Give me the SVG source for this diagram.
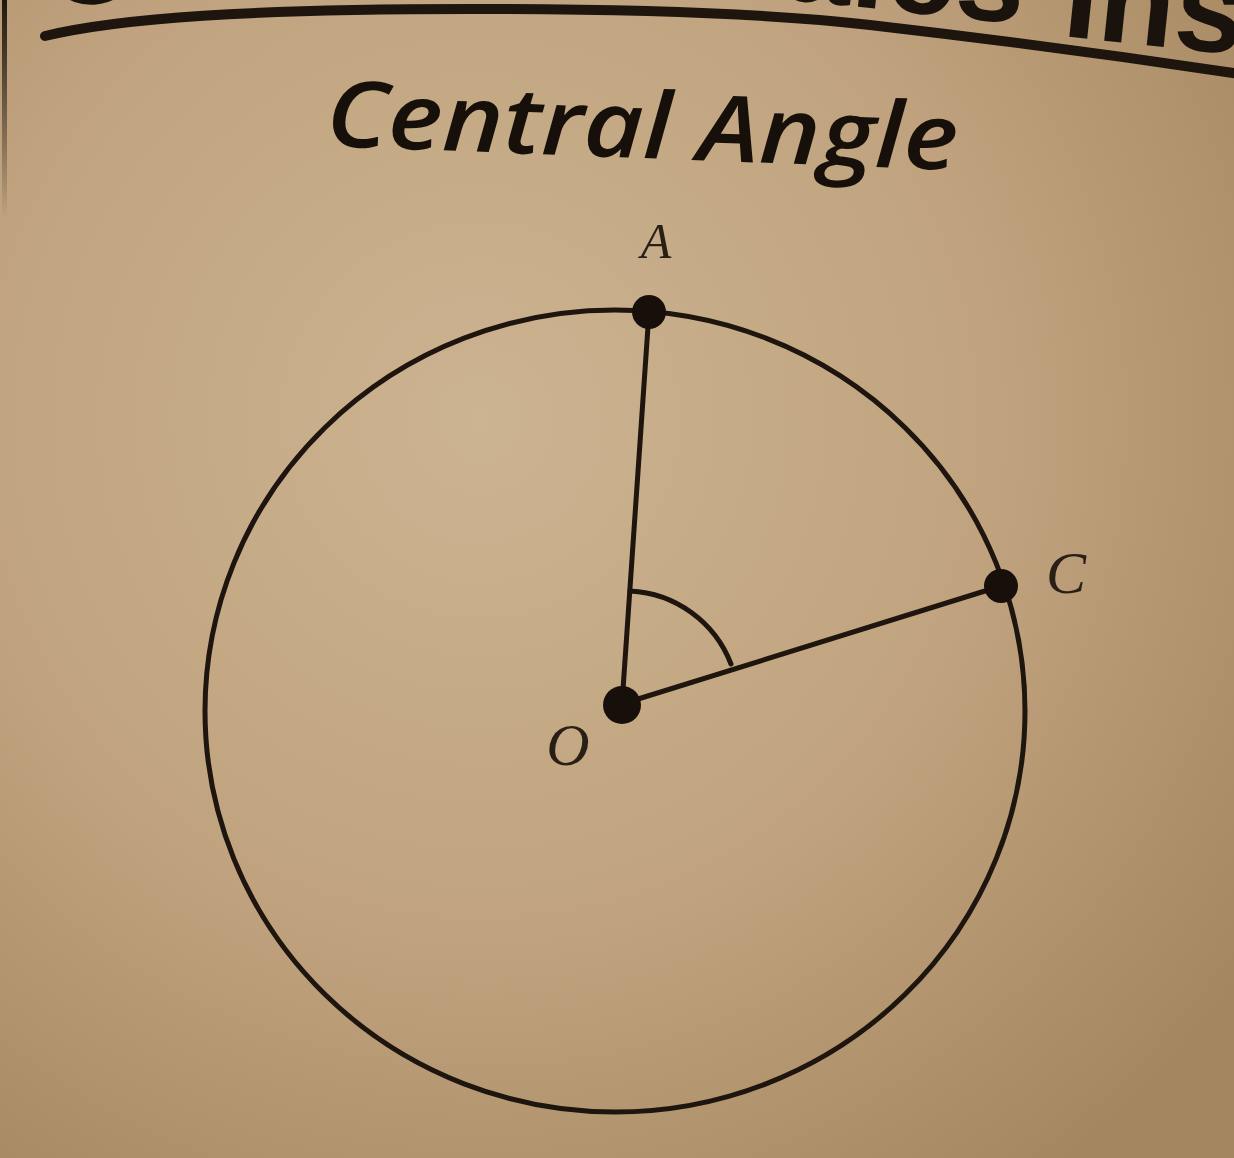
<svg xmlns="http://www.w3.org/2000/svg" width="1234" height="1158" viewBox="0 0 1234 1158">
  <defs>
    <radialGradient id="paper" cx="480" cy="420" r="950" gradientUnits="userSpaceOnUse">
      <stop offset="0" stop-color="#ccb391"/>
      <stop offset="0.55" stop-color="#c0a37e"/>
      <stop offset="1" stop-color="#a48760"/>
    </radialGradient>
    <linearGradient id="edgeFade" x1="0" y1="0" x2="0" y2="1">
      <stop offset="0" stop-color="#201810" stop-opacity="1"/>
      <stop offset="1" stop-color="#201810" stop-opacity="0"/>
    </linearGradient>
    <style>
      .ink { stroke: #1d150e; fill: none; stroke-linecap: round; stroke-linejoin: round; }
      .dot { fill: #17100a; }
      .lbl { font-family: "Liberation Serif", "DejaVu Serif", serif; font-style: italic; fill: #2a1f16; text-anchor: middle; }
      .head { font-family: "Liberation Sans", Arial, sans-serif; font-weight: bold; fill: #1a120c; }
    </style>
  </defs>

  <rect x="0" y="0" width="1234" height="1158" fill="url(#paper)"/>

  <!-- left page edge -->
  <rect x="2" y="0" width="5" height="220" fill="url(#edgeFade)"/>

  <!-- clipped header text fragments -->
  <g id="header">
    <text class="head" font-size="125" transform="translate(46,6) rotate(-3)">C</text>
    <text class="head" font-size="125" text-anchor="end" transform="translate(1022,24) rotate(6)">ales</text>
    <text class="head" font-size="125" transform="translate(1061,36) rotate(6)">Ins</text>
    <path class="ink" stroke-width="10" d="M45,36 C120,18 250,9 470,9 C620,9 760,12 870,25 C1000,40 1120,56 1240,74"/>
  </g>

  <!-- title -->
  <g id="title">
    <text x="325" y="158" font-family="Open Sans, 'Liberation Sans', sans-serif" font-style="italic" font-weight="600" font-size="92" fill="#17100a" textLength="632" lengthAdjust="spacingAndGlyphs" transform="rotate(2.2 640 158)">Central Angle</text>
  </g>

  <!-- circle -->
  <g id="circle">
    <ellipse class="ink" stroke-width="5" cx="615" cy="711" rx="410" ry="401"/>
  </g>

  <!-- connectors: radii and angle mark -->
  <g id="connectors">
    <line class="ink" stroke-width="5" x1="622" y1="704" x2="649" y2="312"/>
    <line class="ink" stroke-width="5" x1="622" y1="704" x2="1001" y2="586"/>
    <path class="ink" stroke-width="5" d="M630,591 A114,114 0 0 1 731,664"/>
  </g>

  <!-- points -->
  <g id="point-A">
    <circle class="dot" cx="649" cy="312" r="17"/>
    <text class="lbl" x="656" y="258" font-size="50">A</text>
  </g>
  <g id="point-O">
    <circle class="dot" cx="622" cy="705" r="19"/>
    <text class="lbl" x="568" y="765" font-size="60">O</text>
  </g>
  <g id="point-C">
    <circle class="dot" cx="1001" cy="586" r="17"/>
    <text class="lbl" x="1066" y="593" font-size="60">C</text>
  </g>
</svg>
